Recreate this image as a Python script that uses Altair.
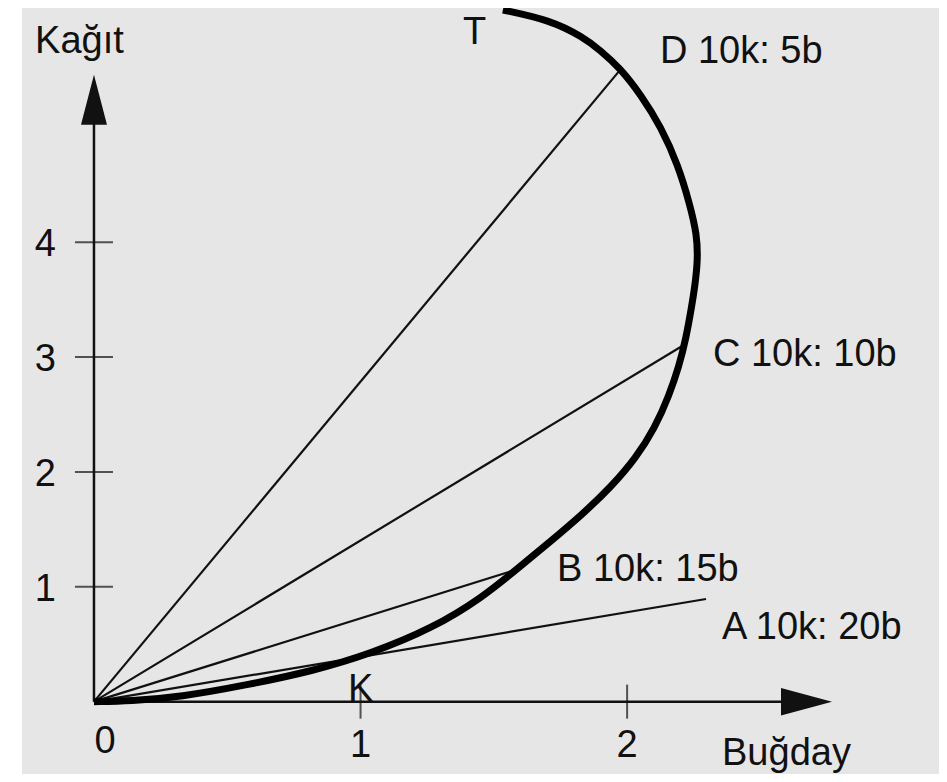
import altair as alt
import pandas as pd

# Production possibility curve (Buğday on x, Kağıt on y)
curve_x = [0.0, 0.135, 0.323, 0.574, 0.821, 1.035, 1.272, 1.459, 1.587, 1.714, 1.834,
           1.943, 2.033, 2.104, 2.157, 2.195, 2.221, 2.240, 2.255, 2.265, 2.262, 2.236,
           2.191, 2.127, 2.052, 1.973, 1.898, 1.834, 1.710, 1.534]
curve_y = [0.0, 0.006, 0.040, 0.145, 0.267, 0.415, 0.641, 0.911, 1.155, 1.398, 1.634,
           1.878, 2.122, 2.383, 2.662, 2.923, 3.167, 3.411, 3.628, 3.846, 4.064, 4.325,
           4.673, 5.004, 5.283, 5.518, 5.674, 5.788, 5.936, 6.023]

# Price rays from the origin
ray_names = ["A", "B", "C", "D"]
ray_end_x = [2.296, 1.579, 2.213, 1.970]
ray_end_y = [0.894, 1.146, 3.106, 5.490]

# Annotations
annot_text = ["A 10k: 20b", "B 10k: 15b", "C 10k: 10b", "D 10k: 5b", "T", "K", "Kağıt", "Buğday"]
annot_x = [2.356, 1.737, 2.322, 2.123, 1.384, 0.953, -0.221, 2.356]
annot_y = [0.545, 1.050, 2.923, 5.561, 5.727, 0.006, 5.648, -0.551]

# Axis ticks
x_ticks = [1, 2]
x_tick_labels = ["1", "2"]
y_ticks = [1, 2, 3, 4]
y_tick_labels = ["1", "2", "3", "4"]
origin_label = ["0"]

# Axis extents (arrow heads)
x_axis_end = 2.673
y_axis_end = 5.24

FONT = "Liberation Sans"
INK = "#111111"
XS = alt.Scale(domain=[-0.27, 3.17], nice=False, zero=False)
YS = alt.Scale(domain=[-0.63, 6.04], nice=False, zero=False)


def X(f):
    return alt.X(f, type="quantitative", scale=XS, axis=None)


def Y(f):
    return alt.Y(f, type="quantitative", scale=YS, axis=None)


curve_df = pd.DataFrame({"x": curve_x, "y": curve_y, "i": list(range(len(curve_x)))})
ray_df = pd.DataFrame({"name": ray_names, "x0": [0.0] * 4, "y0": [0.0] * 4,
                       "x1": ray_end_x, "y1": ray_end_y})
annot_df = pd.DataFrame({"t": annot_text, "x": annot_x, "y": annot_y})
xt_df = pd.DataFrame({"v": x_ticks, "z": [0.0] * len(x_ticks), "lab": x_tick_labels})
yt_df = pd.DataFrame({"v": y_ticks, "z": [0.0] * len(y_ticks), "lab": y_tick_labels})
o_df = pd.DataFrame({"v": [0.0], "z": [0.0], "lab": origin_label})
axes_df = pd.DataFrame({"x0": [0.0, 0.0], "y0": [0.0, 0.0],
                        "x1": [x_axis_end, 0.0], "y1": [0.0, y_axis_end]})
arrow_x_df = pd.DataFrame({"x": [x_axis_end], "y": [0.0]})
arrow_y_df = pd.DataFrame({"x": [0.0], "y": [y_axis_end]})

axes = alt.Chart(axes_df).mark_rule(color=INK, strokeWidth=2.5).encode(
    x=X("x0"), y=Y("y0"), x2="x1", y2="y1")

arrow_x = alt.Chart(arrow_x_df).mark_point(
    shape="M -1 -0.54 L 1 0 L -1 0.54 Z", size=2601, filled=True, color=INK, opacity=1,
    strokeWidth=0).encode(x=X("x"), y=Y("y"))
arrow_y = alt.Chart(arrow_y_df).mark_point(
    shape="M -0.52 1 L 0 -1 L 0.52 1 Z", size=2500, filled=True, color=INK, opacity=1,
    strokeWidth=0).encode(x=X("x"), y=Y("y"))

xticks = alt.Chart(xt_df).mark_tick(orient="vertical", size=34, thickness=2, color=INK).encode(
    x=X("v"), y=Y("z"))
yticks = alt.Chart(yt_df).mark_tick(orient="horizontal", size=38, thickness=2, color=INK).encode(
    x=X("z"), y=Y("v"))

xlabels = alt.Chart(xt_df).mark_text(font=FONT, fontSize=38, color=INK, align="center",
                                     baseline="alphabetic", dy=55).encode(
    x=X("v"), y=Y("z"), text="lab:N")
ylabels = alt.Chart(yt_df).mark_text(font=FONT, fontSize=38, color=INK, align="right",
                                     baseline="alphabetic", dx=-38, dy=14).encode(
    x=X("z"), y=Y("v"), text="lab:N")
olabel = alt.Chart(o_df).mark_text(font=FONT, fontSize=38, color=INK, align="center",
                                   baseline="alphabetic", dx=11, dy=51).encode(
    x=X("v"), y=Y("z"), text="lab:N")

rays = alt.Chart(ray_df).mark_rule(color=INK, strokeWidth=2.2).encode(
    x=X("x0"), y=Y("y0"), x2="x1", y2="y1")

curve = alt.Chart(curve_df).mark_line(color="#000000", strokeWidth=7, interpolate="basis",
                                      strokeCap="butt").encode(
    x=X("x"), y=Y("y"), order="i:Q")

annots = alt.Chart(annot_df).mark_text(font=FONT, fontSize=38, color=INK, align="left",
                                       baseline="alphabetic").encode(
    x=X("x"), y=Y("y"), text="t:N")

chart = alt.layer(axes, arrow_x, arrow_y, xticks, yticks, xlabels, ylabels, olabel,
                  rays, curve, annots).properties(
    width=917, height=766,
    padding={"left": 14, "top": 0, "right": 0, "bottom": 0},
    autosize=alt.AutoSizeParams(type="none"),
    background="white",
).configure_view(fill="#e6e6e6", strokeWidth=0)

chart.save("out.html", embed_options={"renderer": "svg", "actions": False})
